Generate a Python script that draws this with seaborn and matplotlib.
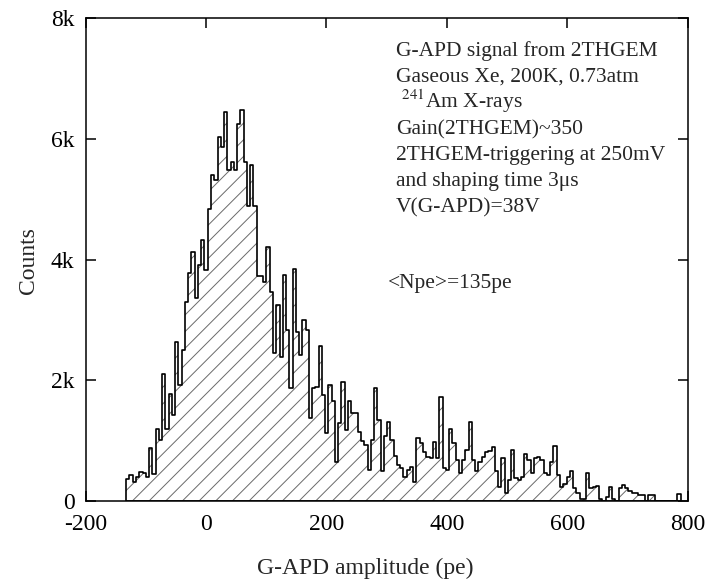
import numpy as np
import pandas as pd
import matplotlib
matplotlib.use("Agg")
import matplotlib.pyplot as plt
import seaborn as sns

# ---- data ----
bin_start = -132.5
bin_stop = 788.0
counts = [
    360, 430, 320, 400, 480, 460, 390, 870, 450, 1200,
    1010, 2110, 1200, 1780, 1420, 2640, 1920, 2500, 3300, 3770,
    4130, 3360, 3910, 4320, 3830, 4840, 5400, 5320, 6030, 5860,
    6450, 5480, 5620, 5480, 6250, 6480, 5620, 4880, 5570, 4880,
    3720, 3720, 3630, 4210, 3470, 2450, 3240, 2390, 3750, 2830,
    1870, 3850, 2800, 2420, 3000, 2830, 1370, 1870, 1890, 2570,
    1760, 1120, 1920, 1650, 650, 1300, 1980, 1180, 1660, 1450,
    1460, 1150, 1000, 930, 520, 1010, 1880, 1340, 490, 1070,
    1310, 1010, 740, 600, 540, 400, 510, 560, 320, 1040,
    960, 820, 730, 710, 980, 710, 1720, 540, 510, 1190,
    960, 680, 460, 680, 850, 1310, 680, 490, 650, 730,
    820, 830, 900, 490, 240, 710, 130, 350, 850, 380,
    350, 400, 780, 680, 460, 710, 730, 680, 460, 430,
    650, 910, 430, 240, 290, 400, 500, 210, 130, 40,
    40, 470, 210, 230, 250, 40, 0, 70, 240, 40,
    0, 210, 270, 210, 160, 130, 130, 100, 100, 0,
    100, 100, 0, 0, 0, 0, 0, 0, 0, 110,
]
x_ticks = [-200, 0, 200, 400, 600, 800]
x_tick_labels = ["-200", "0", "200", "400", "600", "800"]
y_ticks = [0, 2000, 4000, 6000, 8000]
y_tick_labels = ["0", "2k", "4k", "6k", "8k"]
info_lines = [
    "G-APD signal from 2THGEM",
    "Gaseous Xe, 200K, 0.73atm",
    r" $^{241}$Am X-rays",
    "Gain(2THGEM)~350",
    "2THGEM-triggering at 250mV",
    "and shaping time 3\u03bcs",
    "V(G-APD)=38V",
]
npe_text = "<Npe>=135pe"

edges = [float(e) for e in np.linspace(bin_start, bin_stop, len(counts) + 1)]
centers = [0.5 * (a + b) for a, b in zip(edges[:-1], edges[1:])]
df = pd.DataFrame({"amp": centers, "counts": counts})

sns.set_style("ticks")
plt.rcParams["font.family"] = ["Liberation Serif", "DejaVu Serif"]
plt.rcParams["mathtext.fontset"] = "stix"
plt.rcParams["hatch.linewidth"] = 0.7

fig = plt.figure(figsize=(7.07, 5.87), dpi=100)
ax = fig.add_axes([0.121, 0.1465, 0.852, 0.8225])

# hatched fill
sns.histplot(data=df, x="amp", weights="counts", bins=edges, element="step",
             fill=True, color="white", facecolor="white", edgecolor="#6a6a6a",
             linewidth=0, alpha=1, ax=ax)
for coll in ax.collections:
    coll.set_hatch("//")
# black outline
sns.histplot(data=df, x="amp", weights="counts", bins=edges, element="step",
             fill=True, color="black", facecolor="none", edgecolor="black",
             linewidth=1.2, ax=ax)

ax.set_xlim(-200, 800)
ax.set_ylim(0, 8000)
ax.set_xticks(x_ticks)
ax.set_xticklabels(x_tick_labels)
ax.set_yticks(y_ticks)
ax.set_yticklabels(y_tick_labels)
ax.tick_params(direction="in", length=7.5, width=1.1, top=True, right=True,
               labelsize=17, colors="black")
ax.tick_params(axis="x", pad=9)
ax.tick_params(axis="y", pad=8)
for sp in ax.spines.values():
    sp.set_linewidth(1.1)
    sp.set_color("black")

ax.set_xlabel("G-APD amplitude (pe)", fontsize=17, va="center")
ax.xaxis.set_label_coords(0.464, -0.139)
ax.set_ylabel("Counts", fontsize=17, va="center")
ax.yaxis.set_label_coords(-0.095, 0.497)

W, H = 707, 587
for k, line in enumerate(info_lines):
    fig.text(396 / W, 1 - (56 + 26 * k) / H, line, fontsize=15.5,
             ha="left", va="baseline")
fig.text(388 / W, 1 - 288 / H, npe_text, fontsize=15.5, ha="left", va="baseline")

fig.savefig("out.png", dpi=100)
